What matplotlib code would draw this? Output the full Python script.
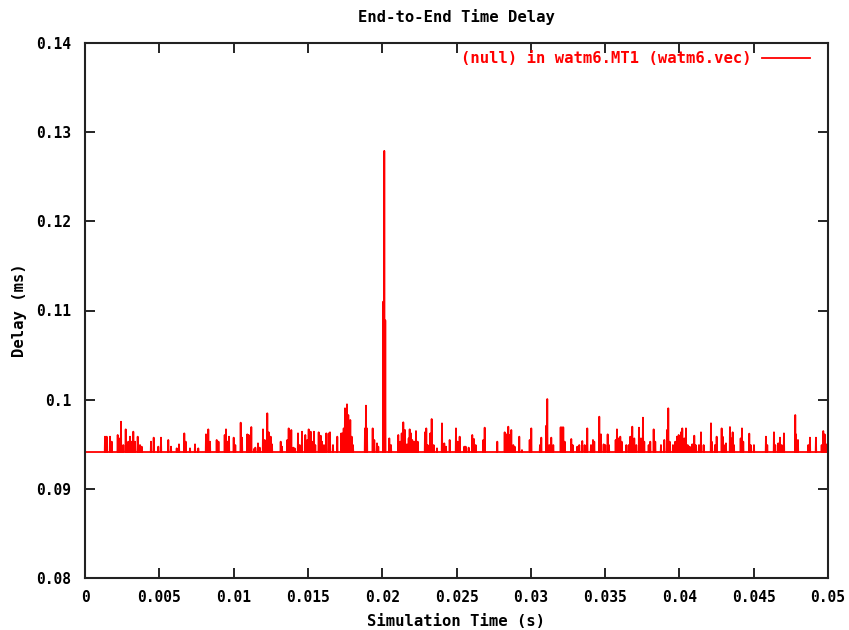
import matplotlib
matplotlib.use("Agg")
import matplotlib.pyplot as plt
from matplotlib.ticker import FixedLocator, FixedFormatter

# ---- data ----
base_delay = 0.09413
t_start, t_end = 0.0, 0.05

spike_t = [
    0.001346, 0.001460, 0.001682, 0.001797, 0.002200, 0.002288, 0.002422, 0.002577,
    0.002739, 0.002914, 0.003028, 0.003142, 0.003250, 0.003365, 0.003546, 0.003701,
    0.003815, 0.004441, 0.004623, 0.004932, 0.005114, 0.005605, 0.005787, 0.006171,
    0.006325, 0.006682, 0.006776, 0.007065, 0.007402, 0.007624, 0.008142, 0.008297,
    0.008411, 0.008862,
    0.008983, 0.009400, 0.009488, 0.009575, 0.009690, 0.010006, 0.010114, 0.010477,
    0.010565, 0.010921, 0.011015, 0.011103, 0.011191, 0.011372, 0.011460, 0.011641,
    0.011755, 0.011978, 0.012092, 0.012267, 0.012361, 0.012496, 0.012583, 0.013169,
    0.013256, 0.013613, 0.013707, 0.013794, 0.013882, 0.014017, 0.014111, 0.014333,
    0.014447, 0.014602, 0.014824, 0.014959, 0.015053, 0.015187, 0.015275, 0.015409,
    0.015497, 0.015726, 0.015861, 0.015948, 0.016082, 0.016237, 0.016399, 0.016486,
    0.016688, 0.016978, 0.017246,
    0.017341, 0.017408, 0.017495, 0.017630, 0.017718, 0.017852, 0.017946, 0.018034,
    0.018841, 0.018908, 0.018976, 0.019359, 0.019467, 0.019649, 0.019736, 0.020073,
    0.020140, 0.020207, 0.020477, 0.020591, 0.021082, 0.021217, 0.021311, 0.021419,
    0.021533, 0.021667, 0.021782, 0.021849, 0.021937, 0.022024, 0.022159, 0.022273,
    0.022387, 0.022879, 0.022966, 0.023060, 0.023235, 0.023329, 0.023464, 0.023686,
    0.024023, 0.024178, 0.024292, 0.024541, 0.024965, 0.025079, 0.025213, 0.025523,
    0.025617, 0.025819, 0.026061, 0.026176, 0.026290, 0.026802, 0.026896, 0.027744,
    0.028242, 0.028349, 0.028484, 0.028598, 0.028686, 0.028820, 0.028914, 0.029224,
    0.029406, 0.029924, 0.030032, 0.030617, 0.030705, 0.031041, 0.031108, 0.031243,
    0.031377, 0.031512, 0.032009, 0.032097, 0.032185, 0.032279, 0.032723, 0.032817,
    0.033127, 0.033262, 0.033463, 0.033625, 0.033800,
    0.034049, 0.034183, 0.034271, 0.034608, 0.034722, 0.034903, 0.035011, 0.035172,
    0.035260, 0.035711, 0.035798, 0.035886, 0.036021, 0.036114, 0.036424, 0.036586,
    0.036693, 0.036828, 0.036963, 0.037097, 0.037279, 0.037413, 0.037548, 0.037635,
    0.037931, 0.038039, 0.038268, 0.038375, 0.038759, 0.038981, 0.039163, 0.039251,
    0.039344, 0.039567, 0.039722, 0.039836, 0.039950, 0.040105, 0.040194, 0.040328,
    0.040441, 0.040556, 0.040690, 0.040865, 0.041000, 0.041094, 0.041316, 0.041451,
    0.041632, 0.042124,
    0.042171, 0.042393, 0.042507, 0.042843, 0.042911, 0.042998, 0.043133, 0.043402,
    0.043489, 0.043584, 0.043671, 0.044122, 0.044210, 0.044297, 0.044701, 0.044795,
    0.045017, 0.045824, 0.045912, 0.046363, 0.046450, 0.046652, 0.046767, 0.046881,
    0.047036, 0.047796, 0.047843, 0.047978, 0.048671, 0.048785, 0.049189, 0.049573,
    0.049681, 0.049775, 0.049909, 0.049977,
]

spike_d = [
    0.09585, 0.09585, 0.09585, 0.09529, 0.09604, 0.09566, 0.09753, 0.09491,
    0.09667, 0.09529, 0.09585, 0.09529, 0.09641, 0.09529, 0.09585, 0.09491,
    0.09473, 0.09529, 0.09574, 0.09473, 0.09574, 0.09548, 0.09473, 0.09454,
    0.09499, 0.09622, 0.09529, 0.09454, 0.09499, 0.09454, 0.09611, 0.09667,
    0.09529, 0.09548,
    0.09529, 0.09604, 0.09667, 0.09529, 0.09585, 0.09574, 0.09491, 0.09742,
    0.09574, 0.09611, 0.09604, 0.09585, 0.09693, 0.09447, 0.09462, 0.09510,
    0.09462, 0.09667, 0.09548, 0.09847, 0.09634, 0.09585, 0.09499, 0.09529,
    0.09473, 0.09548, 0.09678, 0.09566, 0.09660, 0.09462, 0.09454, 0.09622,
    0.09491, 0.09641, 0.09604, 0.09548, 0.09667, 0.09641, 0.09529, 0.09641,
    0.09491, 0.09634, 0.09596, 0.09529, 0.09491, 0.09622, 0.09622, 0.09634,
    0.09491, 0.09585, 0.09622,
    0.09622, 0.09678, 0.09903, 0.09948, 0.09828, 0.09772, 0.09585, 0.09491,
    0.09678, 0.09933, 0.09678, 0.09678, 0.09548, 0.09510, 0.09473, 0.11100,
    0.12790, 0.10890, 0.09566, 0.09491, 0.09604, 0.09529, 0.09622, 0.09746,
    0.09660, 0.09499, 0.09566, 0.09667, 0.09622, 0.09548, 0.09529, 0.09648,
    0.09529, 0.09634, 0.09678, 0.09491, 0.09622, 0.09783, 0.09491, 0.09454,
    0.09734, 0.09510, 0.09473, 0.09548, 0.09678, 0.09529, 0.09585, 0.09473,
    0.09473, 0.09462, 0.09604, 0.09559, 0.09491, 0.09548, 0.09686, 0.09529,
    0.09634, 0.09611, 0.09697, 0.09604, 0.09660, 0.09491, 0.09473, 0.09585,
    0.09435, 0.09548, 0.09678, 0.09491, 0.09574, 0.09708, 0.10007, 0.09491,
    0.09574, 0.09491, 0.09690, 0.09690, 0.09690, 0.09529, 0.09559, 0.09491,
    0.09473, 0.09491, 0.09536, 0.09491, 0.09678,
    0.09491, 0.09548, 0.09529, 0.09809, 0.09611, 0.09499, 0.09491, 0.09611,
    0.09491, 0.09548, 0.09667, 0.09566, 0.09585, 0.09529, 0.09491, 0.09491,
    0.09585, 0.09697, 0.09566, 0.09491, 0.09686, 0.09566, 0.09798, 0.09529,
    0.09491, 0.09529, 0.09667, 0.09529, 0.09491, 0.09548, 0.09660, 0.09903,
    0.09529, 0.09491, 0.09529, 0.09585, 0.09604, 0.09634, 0.09678, 0.09566,
    0.09678, 0.09491, 0.09473, 0.09499, 0.09596, 0.09491, 0.09491, 0.09634,
    0.09491, 0.09735,
    0.09529, 0.09491, 0.09585, 0.09678, 0.09585, 0.09491, 0.09510, 0.09693,
    0.09566, 0.09634, 0.09491, 0.09566, 0.09678, 0.09529, 0.09619, 0.09491,
    0.09491, 0.09585, 0.09491, 0.09634, 0.09491, 0.09510, 0.09574, 0.09491,
    0.09622, 0.09828, 0.09611, 0.09548, 0.09491, 0.09574, 0.09574, 0.09491,
    0.09648, 0.09611, 0.09491, 0.09510,
]

x_ticks = [0, 0.005, 0.01, 0.015, 0.02, 0.025, 0.03, 0.035, 0.04, 0.045, 0.05]
x_tick_labels = ["0", "0.005", "0.01", "0.015", "0.02", "0.025", "0.03", "0.035",
                 "0.04", "0.045", "0.05"]
y_ticks = [0.08, 0.09, 0.10, 0.11, 0.12, 0.13, 0.14]
y_tick_labels = ["0.08", "0.09", "0.1", "0.11", "0.12", "0.13", "0.14"]

title = "End-to-End Time Delay"
x_label = "Simulation Time (s)"
y_label = "Delay (ms)"
series_label = "(null) in watm6.MT1 (watm6.vec)"

# ---- build the line series (baseline between each sample spike) ----
half_w = 0.000018
xs = [t_start]
ys = [base_delay]
for t, d in zip(spike_t, spike_d):
    xs += [t - half_w, t, t + half_w]
    ys += [base_delay, d, base_delay]
xs.append(t_end)
ys.append(base_delay)

# ---- figure ----
plt.rcParams['font.family'] = ['DejaVu Sans Mono']
plt.rcParams['font.weight'] = 'bold'
fs_tick = 10.5
fs = 11.2

fig = plt.figure(figsize=(8.49, 6.30), dpi=100)
ax = fig.add_axes([85 / 849, 1 - 578 / 630, (828 - 85) / 849, (578 - 43) / 630])

ax.plot(xs, ys, color='#ff0000', lw=1.3, label=series_label)

ax.set_xlim(t_start, t_end)
ax.set_ylim(0.08, 0.14)
ax.xaxis.set_major_locator(FixedLocator(x_ticks))
ax.xaxis.set_major_formatter(FixedFormatter(x_tick_labels))
ax.yaxis.set_major_locator(FixedLocator(y_ticks))
ax.yaxis.set_major_formatter(FixedFormatter(y_tick_labels))
ax.tick_params(direction='in', length=7, width=1.2, top=True, right=True,
               labelsize=fs_tick, colors='black')
ax.tick_params(axis='y', pad=10)
ax.tick_params(axis='x', pad=9)
for lab in ax.get_xticklabels() + ax.get_yticklabels():
    lab.set_fontweight('bold')
for sp in ax.spines.values():
    sp.set_linewidth(1.5)
    sp.set_color('#222222')

ax.set_title(title, fontsize=fs, fontweight='bold', pad=15)
ax.set_xlabel(x_label, fontsize=fs, fontweight='bold')
ax.set_ylabel(y_label, fontsize=fs, fontweight='bold')
ax.xaxis.set_label_coords(0.5, (578 - 621) / 535, transform=ax.transAxes)
ax.xaxis.label.set_va('center')
ax.yaxis.set_label_coords((20 - 85) / 743, 0.5, transform=ax.transAxes)
ax.yaxis.label.set_va('center')

leg = ax.legend(loc='upper right', frameon=False, markerfirst=False,
                handlelength=3.1, fontsize=fs, labelcolor='#ff0000',
                borderaxespad=0.0, borderpad=0.0, handletextpad=0.65,
                bbox_to_anchor=((810 - 85) / 743, 1 - 8 / 535))
for txt in leg.get_texts():
    txt.set_fontweight('bold')

fig.savefig('out.png', dpi=100)
